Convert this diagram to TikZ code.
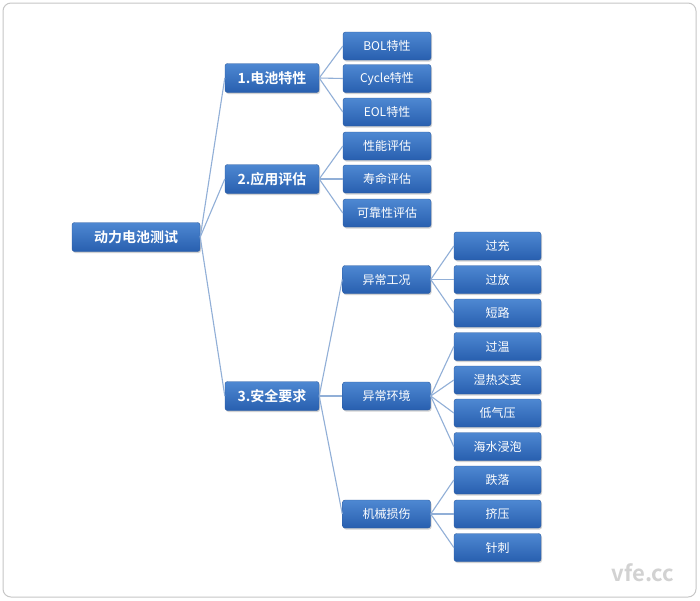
\documentclass[tikz,border=0pt]{standalone}
\usepackage{fontspec}
\setmainfont{Noto Sans CJK SC}[BoldFont={Noto Sans CJK SC Bold}]
\usepackage{tikz}
\usetikzlibrary{shadows}

\definecolor{boxtop}{RGB}{78,136,210}
\definecolor{boxbot}{RGB}{40,95,175}
\definecolor{boxline}{RGB}{45,92,160}
\definecolor{linkblue}{RGB}{145,175,215}

\tikzset{
	treebox/.style={draw=boxline, line width=0.4pt, rounded corners=2.5pt,
		top color=boxtop, bottom color=boxbot, text=white, inner sep=0pt,
		minimum height=28pt, font=\fontsize{12}{12}\selectfont,
		drop shadow={opacity=0.35, shadow xshift=1pt, shadow yshift=-1.5pt}},
	rootbox/.style={treebox, minimum width=128pt, minimum height=29pt,
		font=\fontsize{14}{14}\selectfont\bfseries},
	mainbox/.style={treebox, minimum width=94pt, minimum height=29pt,
		font=\fontsize{14}{14}\selectfont\bfseries},
	subbox/.style={treebox, minimum width=88pt},
	leafbox/.style={treebox, minimum width=87pt},
	link/.style={draw=linkblue, line width=1.1pt}
}

\begin{document}
\begin{tikzpicture}[x=1pt, y=-1pt]
		\draw[draw=gray!45, line width=1pt, rounded corners=8pt, fill=white] (3,3) rectangle (696,597);
		\useasboundingbox (0,0) rectangle (700,600);

		\node[rootbox] (root) at (136,237) {动力电池测试};

		\node[mainbox] (cell) at (272,78) {1.电池特性};
		\node[mainbox] (app) at (272,179) {2.应用评估};
		\node[mainbox] (safe) at (272,396) {3.安全要求};

		\node[subbox] (bol) at (387,46) {BOL特性};
		\node[subbox] (cycle) at (387,78.5) {Cycle特性};
		\node[subbox] (eol) at (387,112) {EOL特性};
		\node[subbox] (perf) at (387,146) {性能评估};
		\node[subbox] (life) at (387,179) {寿命评估};
		\node[subbox] (rel) at (387,213) {可靠性评估};

		\node[subbox] (cond) at (386.5,279.5) {异常工况};
		\node[subbox] (env) at (386.5,396) {异常环境};
		\node[subbox] (mech) at (386.5,514) {机械损伤};

		\node[leafbox] (over) at (497.5,246) {过充};
		\node[leafbox] (dis) at (497.5,279.5) {过放};
		\node[leafbox] (short) at (497.5,313) {短路};
		\node[leafbox] (temp) at (497.5,346.5) {过温};
		\node[leafbox] (damp) at (497.5,380) {湿热交变};
		\node[leafbox] (press) at (497.5,413) {低气压};
		\node[leafbox] (sea) at (497.5,446.5) {海水浸泡};
		\node[leafbox] (drop) at (497.5,480) {跌落};
		\node[leafbox] (crush) at (497.5,514) {挤压};
		\node[leafbox] (nail) at (497.5,547.5) {针刺};

		% links
		\draw[link] (root.east) -- (cell.west);
		\draw[link] (root.east) -- (app.west);
		\draw[link] (root.east) -- (safe.west);

		\draw[link] (cell.east) -- (bol.west);
		\draw[link] (cell.east) -- (cycle.west);
		\draw[link] (cell.east) -- (eol.west);
		\draw[link] (app.east) -- (perf.west);
		\draw[link] (app.east) -- (life.west);
		\draw[link] (app.east) -- (rel.west);

		\draw[link] (safe.east) -- (cond.west);
		\draw[link] (safe.east) -- (env.west);
		\draw[link] (safe.east) -- (mech.west);

		\draw[link] (cond.east) -- (over.west);
		\draw[link] (cond.east) -- (dis.west);
		\draw[link] (cond.east) -- (short.west);
		\draw[link] (env.east) -- (temp.west);
		\draw[link] (env.east) -- (damp.west);
		\draw[link] (env.east) -- (press.west);
		\draw[link] (env.east) -- (sea.west);
		\draw[link] (mech.east) -- (drop.west);
		\draw[link] (mech.east) -- (crush.west);
		\draw[link] (mech.east) -- (nail.west);

		\node[text=gray!35, font=\fontsize{22}{22}\selectfont\bfseries] (mark) at (643,573) {vfe.cc};
\end{tikzpicture}
\end{document}
